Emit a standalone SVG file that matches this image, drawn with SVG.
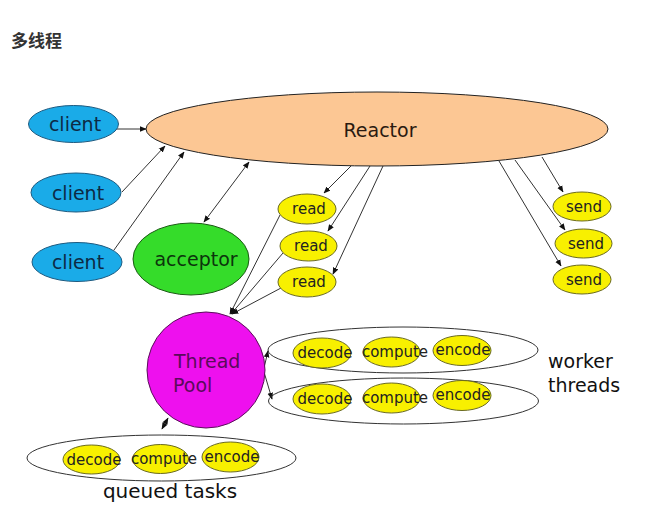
<svg xmlns="http://www.w3.org/2000/svg" width="666" height="528" viewBox="0 0 666 528">
  <style>
    text { font-family: "DejaVu Sans", "Noto Sans", sans-serif; }
    .title { font-family: "Noto Sans CJK SC", sans-serif; font-weight: bold; font-size: 17px; fill: #333; }
    .lbl { font-size: 19px; text-anchor: middle; }
    .sm { font-size: 15px; text-anchor: middle; fill: #222; }
    .conn line { stroke: #333; stroke-width: 1; fill: none; }
    .client ellipse { fill: #1aabe8; stroke: #1d5a80; stroke-width: 1; }
    .small ellipse { fill: #f8f000; stroke: #6a6a20; stroke-width: 1; }
    .small ellipse.group { fill: none; stroke: #333; stroke-width: 1; }
  </style>
  <defs>
    <marker id="ah" viewBox="0 0 10 10" refX="9" refY="5" markerWidth="7" markerHeight="7" orient="auto-start-reverse" markerUnits="userSpaceOnUse">
      <path d="M0,1 L10,5 L0,9 z" fill="#111"/>
    </marker>
  </defs>

  <rect width="666" height="528" fill="#ffffff"/>
  <text class="title" x="11" y="47">多线程</text>

  <!-- connectors -->
  <g id="connectors" class="conn">
    <line x1="116" y1="129" x2="146" y2="129" marker-end="url(#ah)"/>
    <line x1="122" y1="192" x2="165" y2="146" marker-end="url(#ah)"/>
    <line x1="114" y1="250" x2="184" y2="152" marker-end="url(#ah)"/>
    <line x1="204" y1="222" x2="249" y2="162" marker-start="url(#ah)" marker-end="url(#ah)"/>
    <line x1="351" y1="166" x2="324" y2="193" marker-end="url(#ah)"/>
    <line x1="370" y1="166" x2="328" y2="231" marker-end="url(#ah)"/>
    <line x1="383" y1="166" x2="333" y2="274" marker-end="url(#ah)"/>
    <line x1="542" y1="157" x2="563" y2="192" marker-end="url(#ah)"/>
    <line x1="515" y1="160" x2="565" y2="230" marker-end="url(#ah)"/>
    <line x1="499" y1="161" x2="561" y2="266" marker-end="url(#ah)"/>
    <line x1="280" y1="215" x2="230" y2="314" marker-end="url(#ah)"/>
    <line x1="283" y1="253" x2="231" y2="314" marker-end="url(#ah)"/>
    <line x1="281" y1="288" x2="232" y2="314" marker-end="url(#ah)"/>
    <line x1="264" y1="368" x2="268" y2="351" marker-end="url(#ah)"/>
    <line x1="264" y1="372" x2="272" y2="399" marker-end="url(#ah)"/>
    <line x1="168" y1="418" x2="162" y2="429" marker-start="url(#ah)" marker-end="url(#ah)"/>
  </g>

  <g id="reactor">
    <ellipse cx="377" cy="129" rx="231" ry="37" fill="#fcc794" stroke="#222" stroke-width="1"/>
    <text class="lbl" x="380" y="137" fill="#2a1a10">Reactor</text>
  </g>

  <g id="client1" class="client">
    <ellipse cx="73.5" cy="124" rx="45" ry="18.5"/>
    <text class="lbl" x="75" y="131" fill="#0d2a45">client</text>
  </g>
  <g id="client2" class="client">
    <ellipse cx="76" cy="192.5" rx="45" ry="19.5"/>
    <text class="lbl" x="78" y="200" fill="#0d2a45">client</text>
  </g>
  <g id="client3" class="client">
    <ellipse cx="77" cy="262" rx="45" ry="19.5"/>
    <text class="lbl" x="78" y="269" fill="#0d2a45">client</text>
  </g>

  <g id="acceptor">
    <ellipse cx="191" cy="259" rx="58" ry="36" fill="#35dc2a" stroke="#1b5a14" stroke-width="1"/>
    <text class="lbl" x="196" y="266" fill="#0c350c">acceptor</text>
  </g>

  <g id="read1" class="small">
    <ellipse cx="307" cy="209" rx="29" ry="15"/>
    <text class="sm" x="309" y="214">read</text>
  </g>
  <g id="read2" class="small">
    <ellipse cx="308.5" cy="246" rx="28.5" ry="15"/>
    <text class="sm" x="311" y="251">read</text>
  </g>
  <g id="read3" class="small">
    <ellipse cx="307" cy="282" rx="29" ry="15"/>
    <text class="sm" x="309" y="287">read</text>
  </g>

  <g id="send1" class="small">
    <ellipse cx="582" cy="206.5" rx="29" ry="14.5"/>
    <text class="sm" x="584" y="211.5">send</text>
  </g>
  <g id="send2" class="small">
    <ellipse cx="583.5" cy="243.5" rx="28.5" ry="14.5"/>
    <text class="sm" x="586" y="248.5">send</text>
  </g>
  <g id="send3" class="small">
    <ellipse cx="582" cy="279.5" rx="29" ry="14.5"/>
    <text class="sm" x="584" y="284.5">send</text>
  </g>

  <g id="threadpool">
    <ellipse cx="206" cy="370" rx="59" ry="58" fill="#ee10ee" stroke="#5a105a" stroke-width="1"/>
    <text x="174" y="368" font-size="19" fill="#5a0a5a">Thread</text>
    <text x="173" y="392" font-size="19" fill="#5a0a5a">Pool</text>
  </g>

  <g id="worker1" class="small">
    <ellipse class="group" cx="403" cy="350" rx="135" ry="23"/>
    <ellipse cx="322" cy="353" rx="29" ry="15"/>
    <ellipse cx="391.5" cy="352" rx="28.5" ry="15"/>
    <ellipse cx="462" cy="350.5" rx="29" ry="15"/>
    <text class="sm" x="325" y="358">decode</text>
    <text class="sm" x="395" y="357">compute</text>
    <text class="sm" x="463" y="355">encode</text>
  </g>
  <g id="worker2" class="small">
    <ellipse class="group" cx="403.5" cy="401" rx="135" ry="23"/>
    <ellipse cx="322" cy="399" rx="29" ry="15"/>
    <ellipse cx="391.5" cy="398" rx="28.5" ry="15"/>
    <ellipse cx="462" cy="395.5" rx="29" ry="15"/>
    <text class="sm" x="325" y="404">decode</text>
    <text class="sm" x="395" y="403">compute</text>
    <text class="sm" x="463" y="400">encode</text>
  </g>
  <g id="worker-label">
    <text x="548" y="368" font-size="19" fill="#111">worker</text>
    <text x="548" y="392" font-size="19" fill="#111">threads</text>
  </g>

  <g id="queue" class="small">
    <ellipse class="group" cx="161.5" cy="458" rx="134.5" ry="23"/>
    <ellipse cx="91.5" cy="459.5" rx="28.5" ry="14.5"/>
    <ellipse cx="160.5" cy="459" rx="28" ry="14.5"/>
    <ellipse cx="230.5" cy="457" rx="28.5" ry="15"/>
    <text class="sm" x="94" y="465">decode</text>
    <text class="sm" x="164" y="464">compute</text>
    <text class="sm" x="232" y="462">encode</text>
    <text x="170" y="498" font-size="20" fill="#111" text-anchor="middle">queued tasks</text>
  </g>
</svg>
